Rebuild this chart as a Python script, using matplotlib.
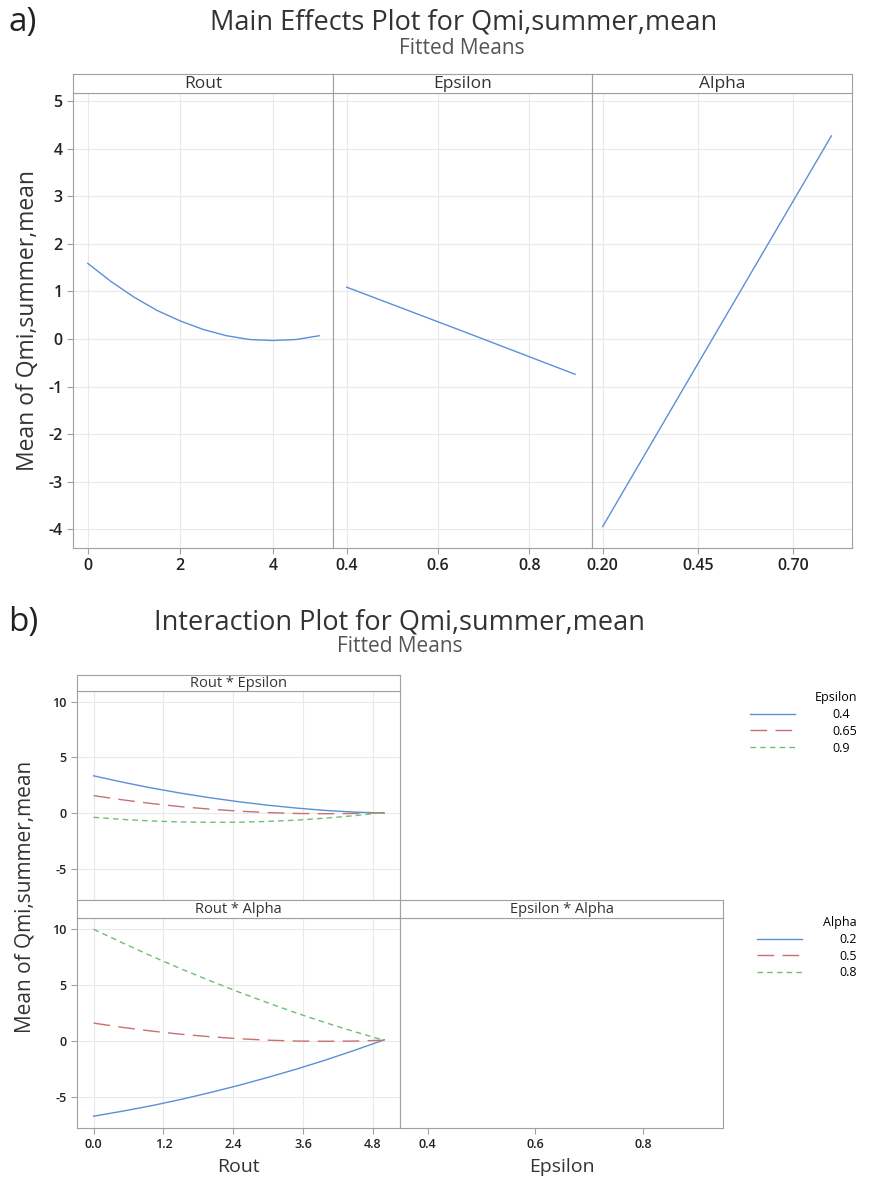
import matplotlib
matplotlib.use("Agg")
import matplotlib.pyplot as plt

plt.rcParams['font.family'] = ['Open Sans', 'DejaVu Sans']
plt.rcParams['axes.unicode_minus'] = False

W, H = 869, 1180

# main effects
rout_levels = [0.0, 0.5, 1.0, 1.5, 2.0, 2.5, 3.0, 3.5, 4.0, 4.5, 5.0]
rout_main = [1.59, 1.21, 0.88, 0.60, 0.38, 0.20, 0.07, -0.01, -0.03, -0.01, 0.07]
eps_levels = [0.4, 0.65, 0.9]
eps_main = [1.09, 0.18, -0.74]
alpha_levels = [0.2, 0.5, 0.8]
alpha_main = [-3.94, 0.17, 4.27]

# interaction Rout * Epsilon
re_eps_04 = [3.36, 2.79, 2.27, 1.81, 1.40, 1.04, 0.73, 0.47, 0.26, 0.11, 0.03]
re_eps_065 = [1.59, 1.21, 0.88, 0.60, 0.38, 0.20, 0.07, -0.01, -0.03, -0.01, 0.07]
re_eps_09 = [-0.35, -0.54, -0.68, -0.77, -0.80, -0.79, -0.72, -0.60, -0.42, -0.20, 0.08]

# interaction Rout * Alpha
ra_alpha_02 = [-6.70, -6.25, -5.76, -5.21, -4.60, -3.95, -3.24, -2.49, -1.68, -0.81, 0.10]
ra_alpha_05 = [1.59, 1.21, 0.88, 0.60, 0.38, 0.20, 0.07, -0.01, -0.03, -0.01, 0.07]
ra_alpha_08 = [9.95, 8.73, 7.55, 6.43, 5.37, 4.35, 3.39, 2.47, 1.61, 0.81, 0.05]

eps_labels = ['0.4', '0.65', '0.9']
alpha_labels = ['0.2', '0.5', '0.8']

colors = ['#5b8fd6', '#c97070', '#6cbf73']
styles = ['-', (0, (12, 6)), (0, (4, 3))]

spine_c = '#a0a0a0'
grid_c = '#e9e9e9'
text_c = '#333333'


def box(x0, y0, x1, y1):
    return [x0 / W, 1 - y1 / H, (x1 - x0) / W, (y1 - y0) / H]


def strip(fig, x0, y0, x1, y1, label, size):
    s = fig.add_axes(box(x0, y0, x1, y1))
    s.set_xticks([])
    s.set_yticks([])
    for sp in s.spines.values():
        sp.set_color(spine_c)
    s.text(0.5, 0.45, label, ha='center', va='center', fontsize=size,
           color=text_c, transform=s.transAxes)
    return s


def style_ax(ax, lsize):
    for sp in ax.spines.values():
        sp.set_color(spine_c)
    ax.grid(True, color=grid_c, lw=0.8)
    ax.set_axisbelow(True)
    ax.tick_params(colors=spine_c, labelcolor='#222222', labelsize=lsize,
                   length=4, direction='out')
    for t in ax.get_xticklabels() + ax.get_yticklabels():
        t.set_fontweight('semibold')


fig = plt.figure(figsize=(W / 100, H / 100), dpi=100)

# ---------- a) main effects ----------
fig.text(8 / W, 1 - 22 / H, 'a)', fontsize=24, va='center', color='#222222')
fig.text(464 / W, 1 - 22 / H, 'Main Effects Plot for Qmi,summer,mean',
         fontsize=19.5, ha='center', va='center', color=text_c)
fig.text(462 / W, 1 - 48 / H, 'Fitted Means', fontsize=15, ha='center',
         va='center', color='#555555')

panels = [(73, 333, 'Rout', rout_levels, rout_main, (-0.32, 5.30), [0, 2, 4], ['0', '2', '4']),
          (333, 592, 'Epsilon', eps_levels, eps_main, (0.37, 0.937), [0.4, 0.6, 0.8], ['0.4', '0.6', '0.8']),
          (592, 852, 'Alpha', alpha_levels, alpha_main, (0.172, 0.854), [0.2, 0.45, 0.7], ['0.20', '0.45', '0.70'])]

for i, (x0, x1, name, xs, ys, xl, xt, xtl) in enumerate(panels):
    ax = fig.add_axes(box(x0, 93, x1, 548))
    strip(fig, x0, 74, x1, 93, name, 12.5)
    ax.plot(xs, ys, color=colors[0], lw=1)
    ax.set_xlim(*xl)
    ax.set_ylim(-4.39, 5.17)
    ax.set_xticks(xt)
    ax.set_xticklabels(xtl)
    ax.set_yticks(range(-4, 6))
    style_ax(ax, 11.5)
    if i == 0:
        ax.set_ylabel('Mean of Qmi,summer,mean', fontsize=16.5, color=text_c, labelpad=6)
    else:
        ax.tick_params(axis='y', left=False, labelleft=False)

# ---------- b) interaction ----------
fig.text(8 / W, 1 - 622 / H, 'b)', fontsize=24, va='center', color='#222222')
fig.text(400 / W, 1 - 622 / H, 'Interaction Plot for Qmi,summer,mean',
         fontsize=19.5, ha='center', va='center', color=text_c)
fig.text(400 / W, 1 - 647 / H, 'Fitted Means', fontsize=15, ha='center',
         va='center', color='#555555')

ylim_b = (-7.75, 10.95)
rout_ticks = [0.0, 1.2, 2.4, 3.6, 4.8]

ax_tl = fig.add_axes(box(77, 691, 400, 900))
strip(fig, 77, 675, 400, 691, 'Rout * Epsilon', 10.5)
for ys, c, ls, lab in zip([re_eps_04, re_eps_065, re_eps_09], colors, styles, eps_labels):
    ax_tl.plot(rout_levels, ys, color=c, ls=ls, lw=1, label=lab)
ax_tl.set_xlim(-0.285, 5.27)
ax_tl.set_ylim(*ylim_b)
ax_tl.set_xticks(rout_ticks)
ax_tl.set_yticks([-5, 0, 5, 10])
style_ax(ax_tl, 9)
ax_tl.tick_params(axis='x', bottom=False, labelbottom=False)

ax_bl = fig.add_axes(box(77, 918, 400, 1128))
strip(fig, 77, 900, 400, 918, 'Rout * Alpha', 10.5)
for ys, c, ls, lab in zip([ra_alpha_02, ra_alpha_05, ra_alpha_08], colors, styles, alpha_labels):
    ax_bl.plot(rout_levels, ys, color=c, ls=ls, lw=1, label=lab)
ax_bl.set_xlim(-0.285, 5.27)
ax_bl.set_ylim(*ylim_b)
ax_bl.set_xticks(rout_ticks)
ax_bl.set_xticklabels(['%.1f' % t for t in rout_ticks])
ax_bl.set_yticks([-5, 0, 5, 10])
style_ax(ax_bl, 9)
ax_bl.set_xlabel('Rout', fontsize=14, color=text_c, labelpad=5)

ax_br = fig.add_axes(box(400, 918, 723, 1128))
strip(fig, 400, 900, 723, 918, 'Epsilon * Alpha', 10.5)
ax_br.set_xlim(0.349, 0.948)
ax_br.set_ylim(*ylim_b)
ax_br.set_xticks([0.4, 0.6, 0.8])
ax_br.set_xticklabels(['0.4', '0.6', '0.8'])
style_ax(ax_br, 9)
ax_br.grid(False)
ax_br.tick_params(axis='y', left=False, labelleft=False)
ax_br.set_xlabel('Epsilon', fontsize=14, color=text_c, labelpad=5)

fig.text(25 / W, 1 - 897 / H, 'Mean of Qmi,summer,mean', fontsize=15,
         rotation=90, ha='center', va='center', color=text_c)

h, l = ax_tl.get_legend_handles_labels()
fig.legend(h, l, title='Epsilon', loc='upper right', bbox_to_anchor=(868 / W, 1 - 680 / H),
           frameon=False, fontsize=9, title_fontsize=9, handlelength=3.6,
           handletextpad=3.0, labelspacing=0.3, alignment='right')
h, l = ax_bl.get_legend_handles_labels()
fig.legend(h, l, title='Alpha', loc='upper right', bbox_to_anchor=(868 / W, 1 - 905 / H),
           frameon=False, fontsize=9, title_fontsize=9, handlelength=3.6,
           handletextpad=3.0, labelspacing=0.3, alignment='right')

fig.savefig('out.png', dpi=100)
